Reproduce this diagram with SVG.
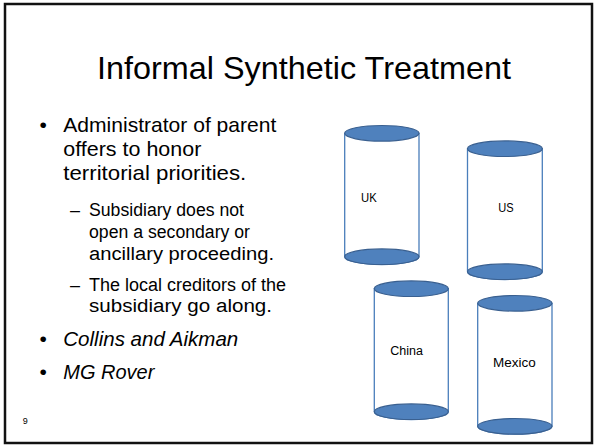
<svg xmlns="http://www.w3.org/2000/svg" width="594" height="445" viewBox="0 0 594 445">
<style>
  text { font-family: "Liberation Sans", Arial, sans-serif; fill: #000; }
  .title { font-size: 32px; }
  .l1 { font-size: 21px; }
  .l2 { font-size: 18px; }
  .it { font-style: italic; }
  .lbl { font-size: 12.5px; }
  .body { fill: #fff; stroke: #4A7EBB; stroke-width: 1.3; }
  .cap { fill: #4F81BD; stroke: #3A6090; stroke-width: 1.2; }
</style>
<rect x="0" y="0" width="594" height="445" fill="#fff"/>
<rect x="5" y="4" width="587" height="439" fill="none" stroke="#111" stroke-width="2.5"/>

<g id="title">
  <text class="title" x="97" y="79" textLength="414" lengthAdjust="spacingAndGlyphs">Informal Synthetic Treatment</text>
</g>

<g id="bullets">
  <text class="l1" x="43.3" y="132" text-anchor="middle">•</text>
  <text class="l1" x="63.3" y="132" textLength="213" lengthAdjust="spacingAndGlyphs">Administrator of parent</text>
  <text class="l1" x="63.3" y="156" textLength="138" lengthAdjust="spacingAndGlyphs">offers to honor</text>
  <text class="l1" x="63.3" y="180" textLength="183" lengthAdjust="spacingAndGlyphs">territorial priorities.</text>

  <text class="l2" x="70" y="216">–</text>
  <text class="l2" x="89" y="216" textLength="155" lengthAdjust="spacingAndGlyphs">Subsidiary does not</text>
  <text class="l2" x="89" y="238" textLength="161" lengthAdjust="spacingAndGlyphs">open a secondary or</text>
  <text class="l2" x="89" y="260" textLength="185" lengthAdjust="spacingAndGlyphs">ancillary proceeding.</text>
  <text class="l2" x="70" y="291">–</text>
  <text class="l2" x="89" y="291" textLength="197" lengthAdjust="spacingAndGlyphs">The local creditors of the</text>
  <text class="l2" x="89" y="312" textLength="183" lengthAdjust="spacingAndGlyphs">subsidiary go along.</text>

  <text class="l1" x="43.3" y="346" text-anchor="middle">•</text>
  <text class="l1 it" x="63.3" y="346" textLength="175" lengthAdjust="spacingAndGlyphs">Collins and Aikman</text>
  <text class="l1" x="43.3" y="379" text-anchor="middle">•</text>
  <text class="l1 it" x="63.3" y="379" textLength="91" lengthAdjust="spacingAndGlyphs">MG Rover</text>

  <text x="22.7" y="424" style="font-size:9px">9</text>
</g>

<g id="uk">
  <path class="body" d="M344.7,133.3 L344.7,256.7 A37.15,7.8 0 0 0 419,256.7 L419,133.3 Z"/>
  <ellipse class="cap" cx="381.85" cy="256.7" rx="37.15" ry="7.8"/>
  <ellipse class="cap" cx="381.85" cy="133.3" rx="37.15" ry="7.8"/>
  <text class="lbl" x="361" y="201.7" textLength="15.7" lengthAdjust="spacingAndGlyphs">UK</text>
</g>

<g id="us">
  <path class="body" d="M467.5,148.7 L467.5,271.7 A37.4,7.8 0 0 0 542.3,271.7 L542.3,148.7 Z"/>
  <ellipse class="cap" cx="504.9" cy="271.7" rx="37.4" ry="7.8"/>
  <ellipse class="cap" cx="504.9" cy="148.7" rx="37.4" ry="7.8"/>
  <text class="lbl" x="498.3" y="211.7" textLength="15.4" lengthAdjust="spacingAndGlyphs">US</text>
</g>

<g id="china">
  <path class="body" d="M374.3,288.7 L374.3,411.7 A37,7.8 0 0 0 448.3,411.7 L448.3,288.7 Z"/>
  <ellipse class="cap" cx="411.3" cy="411.7" rx="37" ry="7.8"/>
  <ellipse class="cap" cx="411.3" cy="288.7" rx="37" ry="7.8"/>
  <text class="lbl" x="390.3" y="355" textLength="32.7" lengthAdjust="spacingAndGlyphs">China</text>
</g>

<g id="mexico">
  <path class="body" d="M477.7,303.3 L477.7,426.3 A37.15,7.8 0 0 0 552,426.3 L552,303.3 Z"/>
  <ellipse class="cap" cx="514.85" cy="426.3" rx="37.15" ry="7.8"/>
  <ellipse class="cap" cx="514.85" cy="303.3" rx="37.15" ry="7.8"/>
  <text class="lbl" x="493" y="366.7" textLength="42.7" lengthAdjust="spacingAndGlyphs">Mexico</text>
</g>

<g id="connectors"></g>
</svg>
